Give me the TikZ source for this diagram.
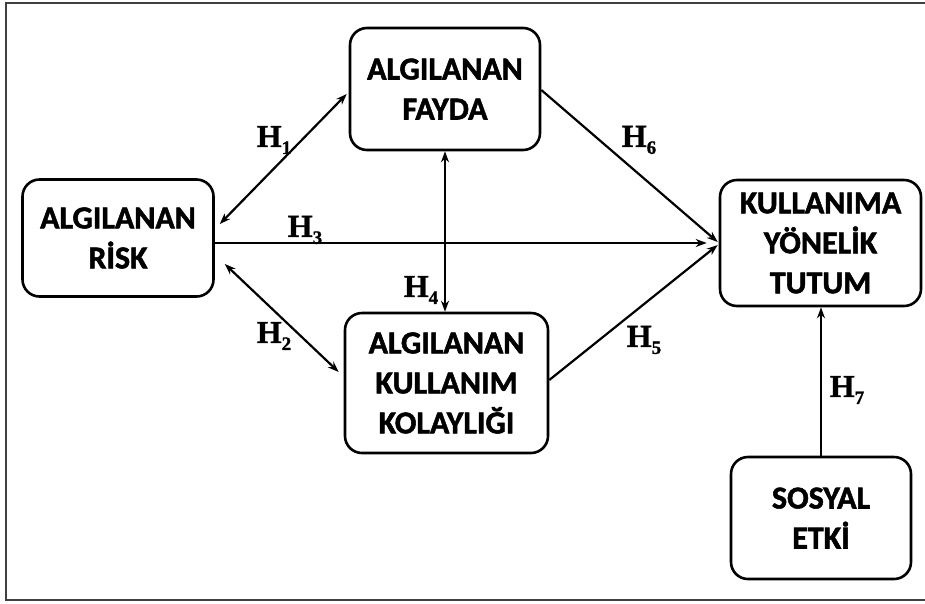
\documentclass[tikz,border=0pt]{standalone}
\usepackage{fontspec}
\setmainfont{Liberation Serif}[BoldFeatures={FakeBold=1.2}]
\newfontfamily\boxfont{Carlito}[BoldFeatures={FakeBold=1.6}]
\usetikzlibrary{arrows.meta}
\tikzset{
  box/.style={draw, line width=2.6pt, rounded corners=17pt, align=center,
    font=\boxfont\bfseries\fontsize{32}{40}\selectfont, inner sep=0pt},
  conn/.style={line width=2.2pt, -{Stealth[length=11pt,width=8pt]}},
  dbl/.style={line width=2.2pt, {Stealth[length=11pt,width=8pt]}-{Stealth[length=11pt,width=8pt]}},
  hlab/.style={font=\bfseries\fontsize{32}{34}\selectfont, inner sep=0pt},
}
\newcommand{\hyp}[1]{H\raisebox{-7pt}{\fontsize{19}{19}\selectfont #1}}
\begin{document}
\begin{tikzpicture}[x=1pt,y=-1pt]
\useasboundingbox (0,0) rectangle (925,603);
% outer frame (open on the right)
\draw[line width=2.5pt, black!75] (930,3) -- (6,3) -- (6,600) -- (930,600);

\node[box, minimum width=190pt, minimum height=122pt] (fayda) at (445,89) {ALGILANAN\\FAYDA};
\node[box, minimum width=191pt, minimum height=117pt] (risk) at (118,238) {ALGILANAN\\RİSK};
\node[box, minimum width=203pt, minimum height=140pt] (kolay) at (446.5,383) {ALGILANAN\\KULLANIM\\KOLAYLIĞI};
\node[box, minimum width=201pt, minimum height=126pt] (tutum) at (820.5,243) {KULLANIMA\\YÖNELİK\\TUTUM};
\node[box, minimum width=180pt, minimum height=122pt] (sosyal) at (821,518) {SOSYAL\\ETKİ};

% H1
\draw[dbl] ([shift={(5,-14)}]risk.east) -- ([shift={(-2,5)}]fayda.west);
% H2
\draw[dbl] ([shift={(10,26)}]risk.east) -- ([shift={(-5,-11)}]kolay.west);
% H3
\draw[conn] ([shift={(0,5)}]risk.east) -- ([shift={(-12,0)}]tutum.west);
% H4
\draw[dbl] (fayda.south) -- (kolay.north -| fayda.south);
% H6
\draw[conn] ([shift={(0,1)}]fayda.east) -- ([shift={(-1,-1)}]tutum.west);
% H5
\draw[conn] ([shift={(0,-3)}]kolay.east) -- ([shift={(-1,2)}]tutum.west);
% H7
\draw[conn] (sosyal.north) -- (sosyal.north |- tutum.south);

\node[hlab] (h1) at (274,140) {\hyp{1}};
\node[hlab] (h2) at (274,336) {\hyp{2}};
\node[hlab] (h3) at (305,230) {\hyp{3}};
\node[hlab] (h4) at (421,290) {\hyp{4}};
\node[hlab] (h5) at (644,340) {\hyp{5}};
\node[hlab] (h6) at (639,140) {\hyp{6}};
\node[hlab] (h7) at (847,390) {\hyp{7}};
\end{tikzpicture}
\end{document}
